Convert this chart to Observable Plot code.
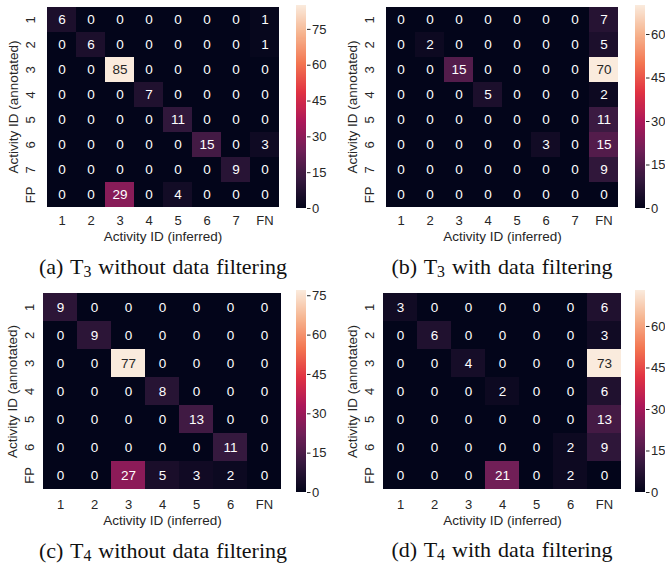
<!DOCTYPE html>
<html>
<head>
<meta charset="utf-8">
<script src="https://cdn.jsdelivr.net/npm/d3@7"></script>
<script src="https://cdn.jsdelivr.net/npm/@observablehq/plot@0.6"></script>
<style>
  html, body { margin: 0; padding: 0; background: white; }
  #root { position: relative; width: 665px; height: 566px; overflow: hidden; background: white; }
  .abs { position: absolute; }
  .cap { position: absolute; font-family: "Liberation Serif", "Times New Roman", serif; font-size: 22px; word-spacing: 1.5px; line-height: 24px; white-space: nowrap; color: #111; transform: translateX(-50%); }
  .cap sub { font-size: 0.72em; vertical-align: -0.22em; line-height: 0; }
</style>
</head>
<body>
<div id="root"></div>
<script>
// ---------- data ----------
const cols8 = ["1", "2", "3", "4", "5", "6", "7", "FN"];
const rows8 = ["1", "2", "3", "4", "5", "6", "7", "FP"];
const cols7 = ["1", "2", "3", "4", "5", "6", "FN"];
const rows7 = ["1", "2", "3", "4", "5", "6", "FP"];

const matrixA = [
  [6, 0, 0, 0, 0, 0, 0, 1],
  [0, 6, 0, 0, 0, 0, 0, 1],
  [0, 0, 85, 0, 0, 0, 0, 0],
  [0, 0, 0, 7, 0, 0, 0, 0],
  [0, 0, 0, 0, 11, 0, 0, 0],
  [0, 0, 0, 0, 0, 15, 0, 3],
  [0, 0, 0, 0, 0, 0, 9, 0],
  [0, 0, 29, 0, 4, 0, 0, 0]
];
const matrixB = [
  [0, 0, 0, 0, 0, 0, 0, 7],
  [0, 2, 0, 0, 0, 0, 0, 5],
  [0, 0, 15, 0, 0, 0, 0, 70],
  [0, 0, 0, 5, 0, 0, 0, 2],
  [0, 0, 0, 0, 0, 0, 0, 11],
  [0, 0, 0, 0, 0, 3, 0, 15],
  [0, 0, 0, 0, 0, 0, 0, 9],
  [0, 0, 0, 0, 0, 0, 0, 0]
];
const matrixC = [
  [9, 0, 0, 0, 0, 0, 0],
  [0, 9, 0, 0, 0, 0, 0],
  [0, 0, 77, 0, 0, 0, 0],
  [0, 0, 0, 8, 0, 0, 0],
  [0, 0, 0, 0, 13, 0, 0],
  [0, 0, 0, 0, 0, 11, 0],
  [0, 0, 27, 5, 3, 2, 0]
];
const matrixD = [
  [3, 0, 0, 0, 0, 0, 6],
  [0, 6, 0, 0, 0, 0, 3],
  [0, 0, 4, 0, 0, 0, 73],
  [0, 0, 0, 2, 0, 0, 6],
  [0, 0, 0, 0, 0, 0, 13],
  [0, 0, 0, 0, 0, 2, 9],
  [0, 0, 0, 21, 0, 2, 0]
];
const ticksA = [0, 15, 30, 45, 60, 75];
const ticksB = [0, 15, 30, 45, 60];
const ticksC = [0, 15, 30, 45, 60, 75];
const ticksD = [0, 15, 30, 45, 60];
const xTitle = "Activity ID (inferred)";
const yTitle = "Activity ID (annotated)";

// seaborn "rocket" colormap stops
const rocket = ["#03051a", "#35193e", "#701f57", "#ad1759", "#e13342", "#f37651", "#f6b48f", "#faebdd"];

// ---------- drawing ----------
const FONT = '"Liberation Sans", Arial, Helvetica, sans-serif';
const root = document.getElementById("root");

function tidy(rows, cols, m) {
  return m.flatMap((r, i) => r.map((v, j) => ({row: rows[i], col: cols[j], value: v})));
}

function panel({rows, cols, matrix, ticks, fx0, fx1, fy0, fy1, cb0, caption, cx, cy}) {
  const max = d3.max(matrix.flat());
  const ML = 44, MR = 10, MT = 5, MB = 40;
  const W = fx1 - fx0 + ML + MR, H = fy1 - fy0 + MT + MB;
  const data = tidy(rows, cols, matrix);
  const color = {type: "linear", domain: rocket.map((_, i) => max * i / (rocket.length - 1)), range: rocket, clamp: true};
  const style = {fontFamily: FONT, fontSize: "13px", color: "#262626", background: "transparent", overflow: "visible"};

  const heat = Plot.plot({
    width: W, height: H,
    marginLeft: ML, marginRight: MR, marginTop: MT, marginBottom: MB,
    style,
    x: {domain: cols, padding: 0},
    y: {domain: rows, padding: 0, axis: null},
    color,
    marks: [
      Plot.cell(data, {x: "col", y: "row", fill: "value", inset: 0, shapeRendering: "crispEdges"}),
      Plot.text(data.filter(d => d.value <= 0.6 * max), {x: "col", y: "row", text: d => String(d.value), fill: "white", fontSize: 13.5}),
      Plot.text(data.filter(d => d.value > 0.6 * max), {x: "col", y: "row", text: d => String(d.value), fill: "#262626", fontSize: 13.5}),
      Plot.axisX({anchor: "bottom", tickSize: 0, tickPadding: 7, label: null, fontSize: 13, fill: "#262626"}),
      Plot.text(rows, {y: d => d, text: d => d, frameAnchor: "left", dx: -14, rotate: -90, textAnchor: "middle", lineAnchor: "middle", fontSize: 13, fill: "#262626"}),
      Plot.text([xTitle], {text: d => d, frameAnchor: "bottom", dy: 28, lineAnchor: "middle", fontSize: 13.5, fill: "#262626"}),
      Plot.text([yTitle], {text: d => d, frameAnchor: "left", dx: -31, rotate: -90, textAnchor: "middle", lineAnchor: "middle", fontSize: 13.5, fill: "#262626"})
    ]
  });
  heat.classList.add("abs");
  heat.style.left = (fx0 - ML) + "px";
  heat.style.top = (fy0 - MT) + "px";
  root.appendChild(heat);

  // colorbar
  const N = 200;
  const steps = d3.range(N).map(i => ({y1: max * i / N, y2: max * (i + 1) / N, v: max * (i + 0.5) / N}));
  const CL = 2, CW = 10, CR = 40;
  const cb = Plot.plot({
    width: CL + CW + CR, height: H,
    marginLeft: CL, marginRight: CR, marginTop: MT, marginBottom: MB,
    style,
    x: {domain: [0, 1], axis: null},
    y: {domain: [0, max]},
    color,
    marks: [
      Plot.rect(steps, {x1: 0, x2: 1, y1: "y1", y2: "y2", fill: "v", shapeRendering: "crispEdges"}),
      Plot.axisY({anchor: "right", ticks, tickSize: 3.5, tickPadding: 2, label: null, fontSize: 13, fill: "#262626", stroke: "#262626"})
    ]
  });
  cb.classList.add("abs");
  cb.style.left = (cb0 - CL) + "px";
  cb.style.top = (fy0 - MT) + "px";
  root.appendChild(cb);

  const cap = document.createElement("div");
  cap.className = "cap";
  cap.innerHTML = caption;
  cap.style.left = cx + "px";
  cap.style.top = (cy - 12) + "px";
  root.appendChild(cap);
}

panel({rows: rows8, cols: cols8, matrix: matrixA, ticks: ticksA, fx0: 44, fx1: 281, fy0: 5, fy1: 208, cb0: 296,
  caption: "(a) T<sub>3</sub> without data filtering", cx: 163, cy: 267});
panel({rows: rows8, cols: cols8, matrix: matrixB, ticks: ticksB, fx0: 383, fx1: 621, fy0: 5, fy1: 208, cb0: 635,
  caption: "(b) T<sub>3</sub> with data filtering", cx: 502, cy: 267});
panel({rows: rows7, cols: cols7, matrix: matrixC, ticks: ticksC, fx0: 43, fx1: 281, fy0: 290, fy1: 492, cb0: 296,
  caption: "(c) T<sub>4</sub> without data filtering", cx: 163, cy: 551});
panel({rows: rows7, cols: cols7, matrix: matrixD, ticks: ticksD, fx0: 383, fx1: 621, fy0: 290, fy1: 492, cb0: 635,
  caption: "(d) T<sub>4</sub> with data filtering", cx: 502, cy: 550});
</script>
</body>
</html>
